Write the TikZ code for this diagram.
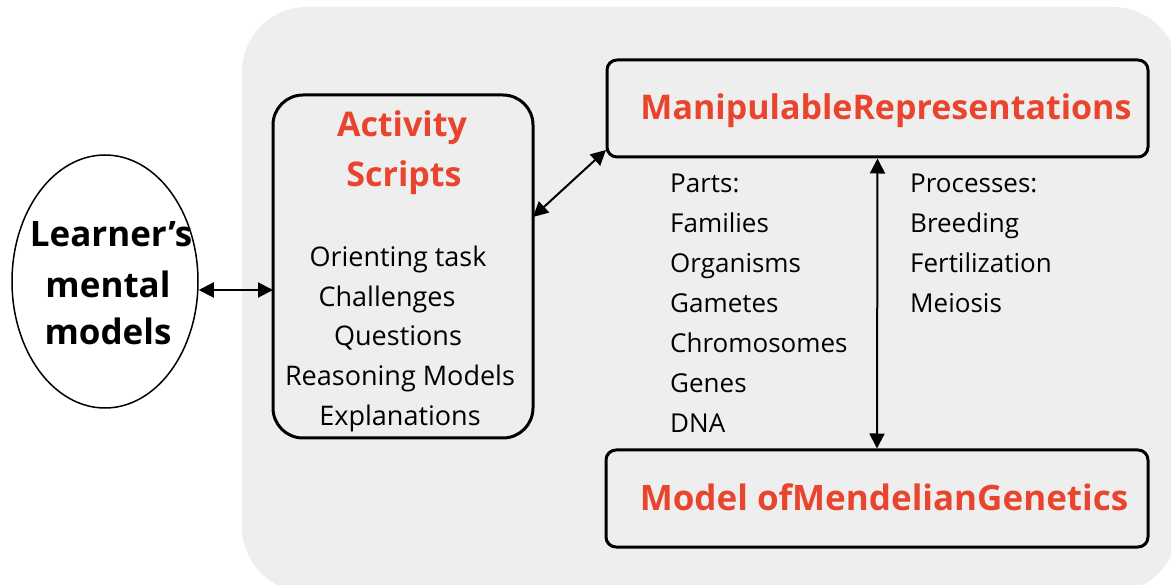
\documentclass[tikz,border=0pt]{standalone}
\usepackage{fontspec}
\setmainfont{Open Sans}
\usetikzlibrary{shapes.geometric,arrows.meta}
\definecolor{bggray}{RGB}{238,238,238}
\definecolor{titlered}{RGB}{232,68,46}
\tikzset{
  x=1pt, y=-1pt,
  boxstyle/.style={draw=black, line width=3pt, fill=none, inner sep=0pt},
  titletext/.style={text=titlered, font=\bfseries\fontsize{34}{38}\selectfont, inner sep=0pt, anchor=base},
  itemtext/.style={font=\fontsize{27}{30}\selectfont, inner sep=0pt, anchor=base},
  coltext/.style={font=\fontsize{26}{30}\selectfont, inner sep=0pt, anchor=base west},
  mentaltext/.style={font=\bfseries\fontsize{35}{40}\selectfont, inner sep=0pt, anchor=base},
  conn/.style={line width=2pt, {Triangle[length=15pt,width=15pt]}-{Triangle[length=15pt,width=15pt]}}
}
\begin{document}
\begin{tikzpicture}
\useasboundingbox (0,0) rectangle (1171,585);
\fill[white] (0,0) rectangle (1171,585);
\fill[bggray, rounded corners=65pt] (242,7) rectangle (1178,592);

% learner's mental models
\node[draw=black, line width=1.5pt, shape=ellipse, minimum width=186pt, minimum height=253pt, inner sep=0pt] (lm) at (105,281.5) {};
\node[mentaltext] (lm1) at (111,247) {Learner’s};
\node[mentaltext] (lm2) at (108,298) {mental};
\node[mentaltext] (lm3) at (108,345) {models};

% activity scripts
\node[boxstyle, rounded corners=30pt, minimum width=260pt, minimum height=343pt] (act) at (403,266.5) {};
\node[titletext] (act1) at (402,137) {Activity};
\node[titletext] (act2) at (404,187) {Scripts};
\node[itemtext] (i1) at (398,267) {Orienting task};
\node[itemtext] (i2) at (387,306.5) {Challenges};
\node[itemtext] (i3) at (398,346) {Questions};
\node[itemtext] (i4) at (400,385.5) {Reasoning Models};
\node[itemtext] (i5) at (400,425) {Explanations};

% manipulable representations
\node[boxstyle, rounded corners=10pt, minimum width=541pt, minimum height=97pt] (man) at (877.5,108.5) {};
\node[titletext, font=\bfseries\fontsize{34}{38}\selectfont] (man1) at (886,120) {ManipulableRepresentations};

% model of mendelian genetics
\node[boxstyle, rounded corners=10pt, minimum width=542pt, minimum height=97pt] (mod) at (877,498.5) {};
\node[titletext, font=\bfseries\fontsize{35}{38}\selectfont] (mod1) at (884,510) {Model ofMendelianGenetics};

% parts column
\node[coltext] (p0) at (670,193) {Parts:};
\node[coltext] (p1) at (670,233) {Families};
\node[coltext] (p2) at (670,273) {Organisms};
\node[coltext] (p3) at (670,313) {Gametes};
\node[coltext] (p4) at (670,353) {Chromosomes};
\node[coltext] (p5) at (670,393) {Genes};
\node[coltext] (p6) at (670,433) {DNA};

% processes column
\node[coltext] (q0) at (910,193) {Processes:};
\node[coltext] (q1) at (910,233) {Breeding};
\node[coltext] (q2) at (910,273) {Fertilization};
\node[coltext] (q3) at (910,313) {Meiosis};

% connectors
\coordinate (a1) at (273,290);
\coordinate (d1) at (533,217);
\coordinate (d2) at (606,150);
\draw[conn] (lm.east |- a1) -- (a1);
\draw[conn] (d1) -- (d2);
\draw[conn] (man.south) -- (mod.north);
\end{tikzpicture}
\end{document}
